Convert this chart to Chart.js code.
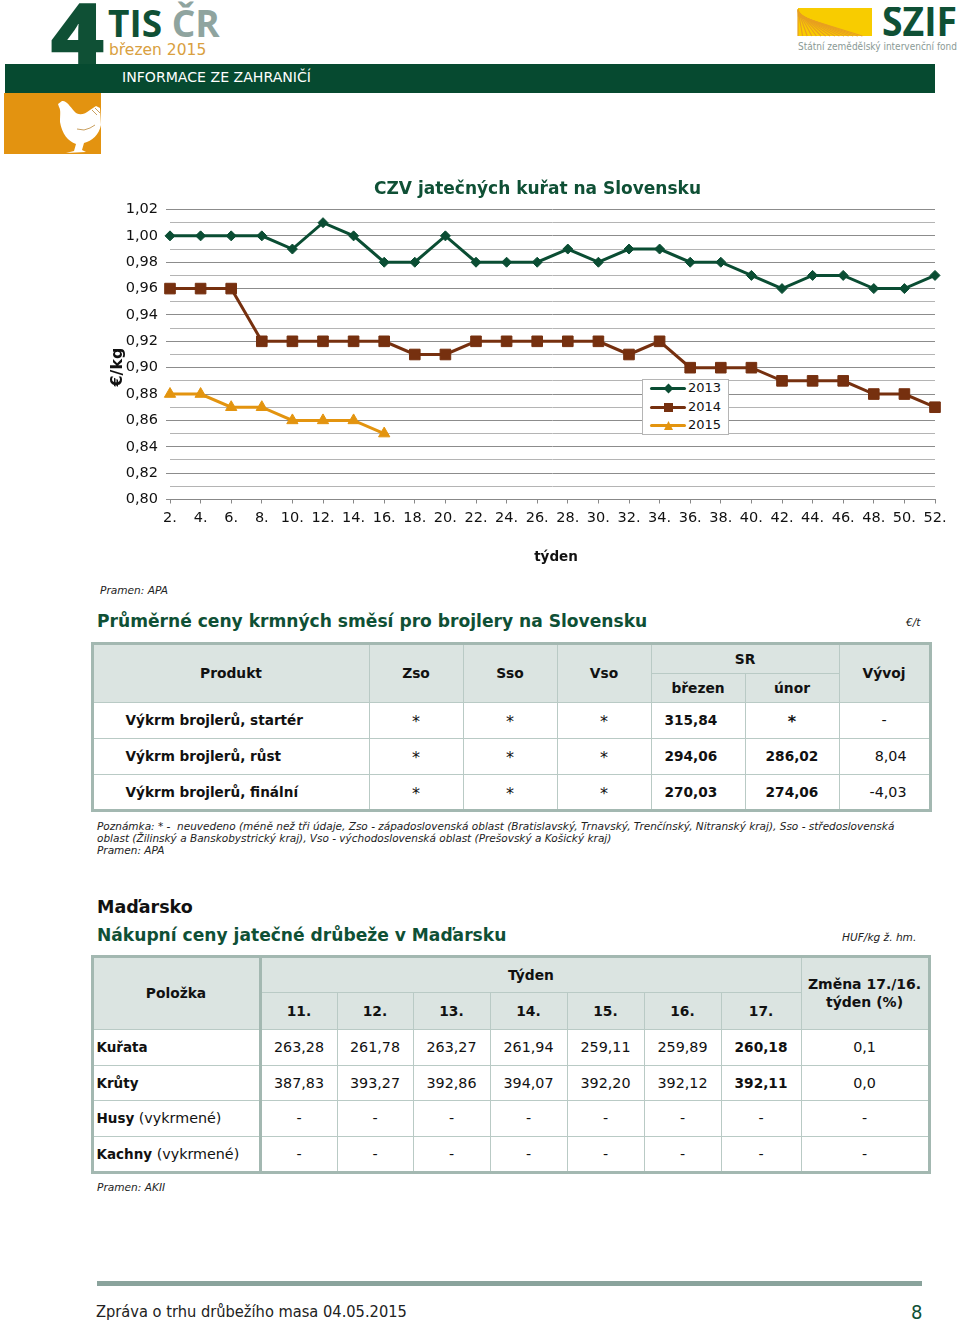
<!DOCTYPE html>
<html lang="cs">
<head>
<meta charset="utf-8">
<title>Zpráva o trhu drůbežího masa</title>
<script src="https://cdn.jsdelivr.net/npm/chart.js@4"></script>
<style>
html,body{margin:0;padding:0;background:#fff;overflow:hidden}
body{position:relative;width:960px;height:1322px;font-family:"DejaVu Sans",sans-serif;color:#111}
.t{position:absolute;white-space:nowrap;line-height:1}
.it{font-style:italic;font-size:10.6px;color:#222}
.hd{font-weight:700;font-size:17.1px;color:#0f5035}
#banner{position:absolute;left:5px;top:64px;width:930px;height:29px;background:#064a30}
#hen{position:absolute;left:4px;top:93px}
#logo{position:absolute;left:797px;top:7px}
#wrap{position:absolute;left:100px;top:170px;width:860px;height:400px}
#legend{position:absolute;left:542px;top:209px;width:85px;height:54px;background:#fff;border:1px solid #b5b5b5;font-size:13px}
#legend div{position:absolute;left:7px;height:18px;width:76px}
#legend i{position:absolute;left:0;top:8px;width:36px;height:3px;border-radius:2px}
#legend b{position:absolute;left:14px;top:5px;width:9px;height:9px}
#legend span{position:absolute;left:38px;top:1px;color:#111;line-height:16px}
table{position:absolute;border-collapse:collapse;table-layout:fixed;font-size:14.3px}
td,th{padding:0;border:1.5px solid #b9cac5;text-align:center;font-weight:400;overflow:hidden}
th{background:#dbe4e1;font-weight:700;font-size:13.8px}
b.n{font-weight:700;font-size:13.7px}
td.s{font-size:16px;padding-top:3px}
#t1{left:90.5px;top:641.5px;width:838px;border:3px solid #a3b8b1}
#t2{left:90.5px;top:954.5px;width:837px;border:3px solid #a3b8b1}
#t1 td.p{text-align:left;padding-left:32px;font-weight:700;font-size:13.6px}
#t1 td.r{text-align:right;padding-right:22px}
#t1 td.m{text-align:left;padding-left:13px;font-weight:700;font-size:13.7px}
#t2 td.p{text-align:left;padding-left:3px}
#t2 td.p b.n{font-size:13.5px}
#t2 .sep{border-right:3px solid #a3b8b1}
</style>
</head>
<body>
<div class="t" style="left:50px;top:-11px;font:800 85px/1 'Open Sans',sans-serif;color:#0f5035;height:75px;overflow:hidden;transform:scaleX(1.1);transform-origin:left top">4</div>
<div class="t" style="left:108px;top:3px;font:700 37px/1.1 'Open Sans',sans-serif;color:#0f5035">TIS <span style="color:#8fa49f">ČR</span></div>
<div class="t" style="left:109px;top:43px;font-size:15.5px;color:#d9a040">březen 2015</div>
<svg id="logo" width="163" height="46" viewBox="0 0 163 46">
  <rect x="1" y="1" width="74" height="28" fill="#f8cc00"/>
  <g id="rays" stroke="#e8a020" stroke-width="1.2"></g>
  <text x="85" y="29" font-family="Open Sans" font-weight="700" font-size="41" fill="#0f5035" textLength="75" lengthAdjust="spacingAndGlyphs">SZIF</text>
  <text x="1" y="43" font-family="DejaVu Sans" font-size="9.7" fill="#8a9a95" textLength="159" lengthAdjust="spacingAndGlyphs">Státní zemědělský intervenční fond</text>
</svg>
<div id="banner"></div>
<div class="t" style="left:122px;top:70px;font-size:14.1px;color:#fff">INFORMACE ZE ZAHRANIČÍ</div>
<svg id="hen" width="97" height="61" viewBox="4 93 97 61">
  <rect x="4" y="93" width="97" height="61" fill="#e39310"/>
  <path fill="#fff" d="M58 104 L62 101 C66 100 70 106 74 111 C78 116 84 115 90 110 L96 106 L100 108 L101 125 C99 135 92 141 84 143 L82 150 L86 152 L66 153 L74 151 L76 144 C68 141 62 134 60 122 C60 115 61 110 59 107 Z"/>
  <path fill="none" stroke="#c9a060" stroke-width="1" d="M77 129 L84 130 L90 128 L95 125 M92 110 L97 115 M95 108 L100 113"/>
</svg>

<div id="wrap"><canvas id="cCzv" width="860" height="400"></canvas><div id="legend"></div></div>
<div class="t it" style="left:100px;top:585px">Pramen: APA</div>

<div class="t hd" style="left:97px;top:613px">Průměrné ceny krmných směsí pro brojlery na Slovensku</div>
<div class="t it" style="left:906px;top:617px">€/t</div>
<table id="t1">
  <colgroup><col style="width:277px"><col style="width:94px"><col style="width:94px"><col style="width:94px"><col style="width:94px"><col style="width:94px"><col style="width:91px"></colgroup>
  <tr style="height:30px"><th rowspan="2">Produkt</th><th rowspan="2">Zso</th><th rowspan="2">Sso</th><th rowspan="2">Vso</th><th colspan="2">SR</th><th rowspan="2">Vývoj</th></tr>
  <tr style="height:29px"><th>březen</th><th>únor</th></tr>
  <tr style="height:36px"><td class="p">Výkrm brojlerů, startér</td><td class="s">*</td><td class="s">*</td><td class="s">*</td><td class="m">315,84</td><td class="s"><b>*</b></td><td>-</td></tr>
  <tr style="height:36px"><td class="p">Výkrm brojlerů, růst</td><td class="s">*</td><td class="s">*</td><td class="s">*</td><td class="m">294,06</td><td><b class="n">286,02</b></td><td class="r">8,04</td></tr>
  <tr style="height:36px"><td class="p">Výkrm brojlerů, finální</td><td class="s">*</td><td class="s">*</td><td class="s">*</td><td class="m">270,03</td><td><b class="n">274,06</b></td><td class="r">-4,03</td></tr>
</table>
<div class="t it" style="left:97px;top:820px;line-height:12px;font-size:10.5px">Poznámka: * -&nbsp; neuvedeno (méně než tři údaje, Zso - západoslovenská oblast (Bratislavský, Trnavský, Trenčínský, Nitranský kraj), Sso - středoslovenská<br>oblast (Žilinský a Banskobystrický kraj), Vso - východoslovenská oblast (Prešovský a Košický kraj)<br>Pramen: APA</div>

<div class="t" style="left:97px;top:899px;font-size:17.5px;font-weight:700;color:#111">Maďarsko</div>
<div class="t hd" style="left:97px;top:927px">Nákupní ceny jatečné drůbeže v Maďarsku</div>
<div class="t it" style="left:842px;top:932px">HUF/kg ž. hm.</div>
<table id="t2">
  <colgroup><col style="width:168px"><col style="width:77px"><col style="width:76px"><col style="width:77px"><col style="width:77px"><col style="width:77px"><col style="width:77px"><col style="width:80px"><col style="width:128px"></colgroup>
  <tr style="height:36px"><th rowspan="2" class="sep">Položka</th><th colspan="7" style="border-bottom:1.5px solid #b9cac5">Týden</th><th rowspan="2" style="line-height:18px;font-size:14px">Změna 17./16.<br>týden (%)</th></tr>
  <tr style="height:37px"><th>11.</th><th>12.</th><th>13.</th><th>14.</th><th>15.</th><th>16.</th><th>17.</th></tr>
  <tr style="height:36px"><td class="p sep"><b class="n">Kuřata</b></td><td>263,28</td><td>261,78</td><td>263,27</td><td>261,94</td><td>259,11</td><td>259,89</td><td><b class="n">260,18</b></td><td>0,1</td></tr>
  <tr style="height:35px"><td class="p sep"><b class="n">Krůty</b></td><td>387,83</td><td>393,27</td><td>392,86</td><td>394,07</td><td>392,20</td><td>392,12</td><td><b class="n">392,11</b></td><td>0,0</td></tr>
  <tr style="height:36px"><td class="p sep"><b class="n">Husy</b> (vykrmené)</td><td>-</td><td>-</td><td>-</td><td>-</td><td>-</td><td>-</td><td>-</td><td>-</td></tr>
  <tr style="height:36px"><td class="p sep"><b class="n">Kachny</b> (vykrmené)</td><td>-</td><td>-</td><td>-</td><td>-</td><td>-</td><td>-</td><td>-</td><td>-</td></tr>
</table>
<div class="t it" style="left:97px;top:1182px">Pramen: AKII</div>

<div style="position:absolute;left:97px;top:1281px;width:825px;height:5px;background:#8aa39c"></div>
<div class="t" style="left:96px;top:1304px;font-size:16.3px;font-stretch:condensed;color:#222">Zpráva o trhu drůbežího masa 04.05.2015</div>
<div class="t" style="left:911px;top:1302px;font-size:20px;font-stretch:condensed;color:#0f5035">8</div>

<script>
// values
const weeks=['2.','4.','6.','8.','10.','12.','14.','16.','18.','20.','22.','24.','26.','28.','30.','32.','34.','36.','38.','40.','42.','44.','46.','48.','50.','52.'];
const y2013=[1.00,1.00,1.00,1.00,0.99,1.01,1.00,0.98,0.98,1.00,0.98,0.98,0.98,0.99,0.98,0.99,0.99,0.98,0.98,0.97,0.96,0.97,0.97,0.96,0.96,0.97];
const y2014=[0.96,0.96,0.96,0.92,0.92,0.92,0.92,0.92,0.91,0.91,0.92,0.92,0.92,0.92,0.92,0.91,0.92,0.90,0.90,0.90,0.89,0.89,0.89,0.88,0.88,0.87];
const y2015=[0.88,0.88,0.87,0.87,0.86,0.86,0.86,0.85];

const GREEN='#0a4d33',BROWN='#76300f',ORANGE='#e3940f';
const isMajor=v=>Math.round(v*100)%2===0;
const FONT='"DejaVu Sans",sans-serif';

// logo furrows
const rays=document.getElementById('rays');
for(let i=0;i<15;i++){
  const l=document.createElementNS('http://www.w3.org/2000/svg','line');
  l.setAttribute('x1',1);l.setAttribute('y1',2+i*0.5);
  l.setAttribute('x2',1+i*4.6);l.setAttribute('y2',29);
  rays.appendChild(l);
}

// --- nudge a scale's title without moving its ticks ---
function nudgeTitle(scale,dx,dy){
  const orig=scale.drawTitle;
  scale.drawTitle=function(){
    const {left,right,top,bottom}=this;
    this.left+=dx;this.right+=dx;this.top+=dy;this.bottom+=dy;
    orig.call(this);
    Object.assign(this,{left,right,top,bottom});
  };
}
const placeTitles={id:'placeTitles',afterLayout(chart){
  chart.titleBlock.left=40; // right stays at 835, centre lands on x=537
  nudgeTitle(chart.scales.x,3.5,0);
  nudgeTitle(chart.scales.y,0,12.5);
}};

const line=(label,data,color,style,radius)=>({label,data,borderColor:color,backgroundColor:color,borderWidth:3,
  pointStyle:style,pointRadius:radius,pointBorderWidth:1,pointBorderColor:color,tension:0,clip:false});

const chart=new Chart(document.getElementById('cCzv'),{type:'line',
  data:{labels:weeks,datasets:[
    line('2013',y2013,GREEN,'rectRot',5),
    line('2014',y2014,BROWN,'rect',7.5),
    line('2015',y2015,ORANGE,'triangle',6.5)]},
  plugins:[placeTitles],
  options:{responsive:false,animation:false,
    layout:{padding:{left:0,right:25,top:0,bottom:0}},
    plugins:{legend:{display:false},tooltip:{enabled:false},
      title:{display:true,text:'CZV jatečných kuřat na Slovensku',color:'#0f5035',
        font:{family:FONT,size:17,weight:'700',lineHeight:1},padding:{top:11,bottom:11.5}}},
    scales:{
      x:{grid:{drawOnChartArea:false,drawTicks:true,tickLength:4,color:'#888'},border:{color:'#888'},
        ticks:{autoSkip:false,maxRotation:0,minRotation:0,padding:6,color:'#111',font:{family:FONT,size:14.5}},
        title:{display:true,text:'týden',color:'#111',font:{family:FONT,size:13.5,weight:'700',lineHeight:1.2},padding:{top:0,bottom:4}},
        afterFit(s){s.height=70.5}},
      y:{min:0.80,max:1.02,
        grid:{color:c=>isMajor(c.tick.value)?'#8c8c8c':'#b4b4b4',tickColor:c=>isMajor(c.tick.value)?'#8c8c8c':'transparent',tickLength:4},
        border:{display:false},
        ticks:{stepSize:0.01,autoSkip:false,padding:8,color:'#111',font:{family:FONT,size:14.5},
          callback:v=>isMajor(v)?v.toFixed(2).replace('.',','):''},
        title:{display:true,text:'€/kg',color:'#111',font:{family:FONT,size:16,weight:'700',lineHeight:1.2},padding:{top:8,bottom:0}},
        afterFit(s){s.width=70}}
    }}});

// --- Legend ---
const marks={rectRot:'transform:rotate(45deg);width:7px;height:7px;left:15px;top:6px',rect:'',triangle:'clip-path:polygon(50% 0,100% 100%,0 100%)'};
document.getElementById('legend').innerHTML=chart.data.datasets.map((d,i)=>
  `<div style="top:${i*18.5-1}px"><i style="background:${d.borderColor}"></i><b style="background:${d.borderColor};${marks[d.pointStyle]}"></b><span>${d.label}</span></div>`).join('');
</script>
</body>
</html>
